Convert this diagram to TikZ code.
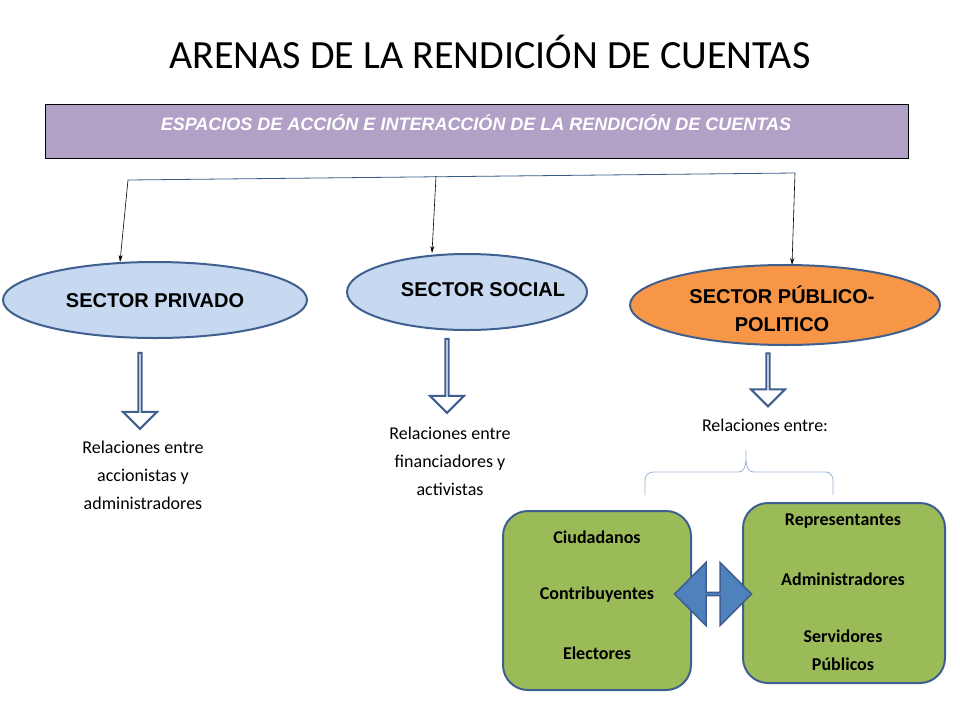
\documentclass[tikz,border=0pt]{standalone}
\usepackage{fontspec}
\setmainfont{Carlito}
\newfontfamily\arialf{Liberation Sans}
\usetikzlibrary{shapes.geometric,shapes.arrows,arrows.meta}
\definecolor{purp}{HTML}{B2A1C7}
\definecolor{lblue}{HTML}{C6D9F1}
\definecolor{edgeb}{HTML}{3F5F8F}
\definecolor{orng}{HTML}{F79646}
\definecolor{grn}{HTML}{9BBB59}
\definecolor{dblue}{HTML}{4F81BD}
\tikzset{
  ell/.style={ellipse,draw=edgeb,line width=2pt,inner sep=0pt},
  body/.style={font=\fontsize{18}{28}\selectfont,align=center},
  gbox/.style={draw=edgeb,line width=2pt,fill=grn,rounded corners=25pt},
  hollow/.style={single arrow,shape border rotate=270,draw=edgeb,line width=2pt,fill=white,minimum width=34pt,single arrow head extend=9pt,single arrow tip angle=90,inner sep=0pt},
  thin/.style={-{Stealth[length=7pt,width=4pt]},black,line width=0.6pt}
}
\begin{document}
\begin{tikzpicture}[x=1pt,y=-1pt]
\useasboundingbox (0,0) rectangle (960,720);
\node[font=\fontsize{40}{44}\selectfont] (title) at (490,52) {ARENAS DE LA RENDICIÓN DE CUENTAS};
\draw[fill=purp,draw=black,line width=0.6pt] (45,104) rectangle (908,158);
\node[font=\arialf\bfseries\itshape\fontsize{18}{20}\selectfont,text=white] (hdr) at (476,123) {ESPACIOS DE ACCIÓN E INTERACCIÓN DE LA RENDICIÓN DE CUENTAS};
\coordinate (la) at (128,180); \coordinate (lb) at (436,176); \coordinate (lc) at (795,173);
\draw[dblue!70!black,line width=0.8pt] (la) -- (lc);
\node[ell,fill=lblue,minimum width=304pt,minimum height=76pt] (priv) at (155,300) {};
\node[font=\arialf\bfseries\fontsize{20}{22}\selectfont] at (155,301) {SECTOR PRIVADO};
\node[ell,fill=lblue,minimum width=240pt,minimum height=76pt] (soc) at (467,292) {};
\node[font=\arialf\bfseries\fontsize{20}{22}\selectfont] at (483,290) {SECTOR SOCIAL};
\node[ell,fill=orng,minimum width=310pt,minimum height=80pt] (pub) at (785,305) {};
\node[font=\arialf\bfseries\fontsize{20}{22}\selectfont,align=center] at (782,309) {SECTOR PÚBLICO-\\[6pt]POLITICO};
\draw[thin] (la) -- (120,262);
\draw[thin] (lb) -- (432,253);
\draw[thin] (lc) -- (792,265);
\node[hollow,minimum height=76pt] (a1) at (140,390) {};
\node[hollow,minimum height=74pt] (a2) at (447,375) {};
\node[hollow,minimum height=53pt] (a3) at (768,379) {};
\node[body] (t1) at (143,475) {Relaciones entre\\accionistas y\\administradores};
\node[body] (t2) at (450,461) {Relaciones entre\\financiadores y\\activistas};
\node[body] (t3) at (765,425) {Relaciones entre:};
\draw[dblue!60,line width=0.8pt] (645,495) -- (645,480) to[out=90,in=180] (653,472) -- (738,472) to[out=0,in=-90] (746,450) to[out=-90,in=180] (754,472) -- (826,472) to[out=0,in=90] (833,480) -- (833,495);
\draw[gbox] (503,511) rectangle (691,690);
\draw[gbox] (743,503) rectangle (945,683);
\node[body,font=\bfseries\fontsize{18}{20}\selectfont] (c1) at (597,537) {Ciudadanos};
\node[body,font=\bfseries\fontsize{18}{20}\selectfont] (c2) at (597,595) {Contribuyentes};
\node[body,font=\bfseries\fontsize{18}{20}\selectfont] (c3) at (597,653) {Electores};
\node[body,font=\bfseries\fontsize{18}{20}\selectfont] (r1) at (843,521) {Representantes};
\node[body,font=\bfseries\fontsize{18}{20}\selectfont] (r2) at (843,579) {Administradores};
\node[body,font=\bfseries\fontsize{18}{28}\selectfont] (r3) at (843,650) {Servidores\\Públicos};
\node[double arrow,draw=edgeb,line width=1.5pt,fill=dblue,minimum width=63pt,minimum height=77pt,double arrow head extend=13pt,double arrow tip angle=90,inner sep=0pt] (dbl) at (713,594) {};
\end{tikzpicture}
\end{document}
